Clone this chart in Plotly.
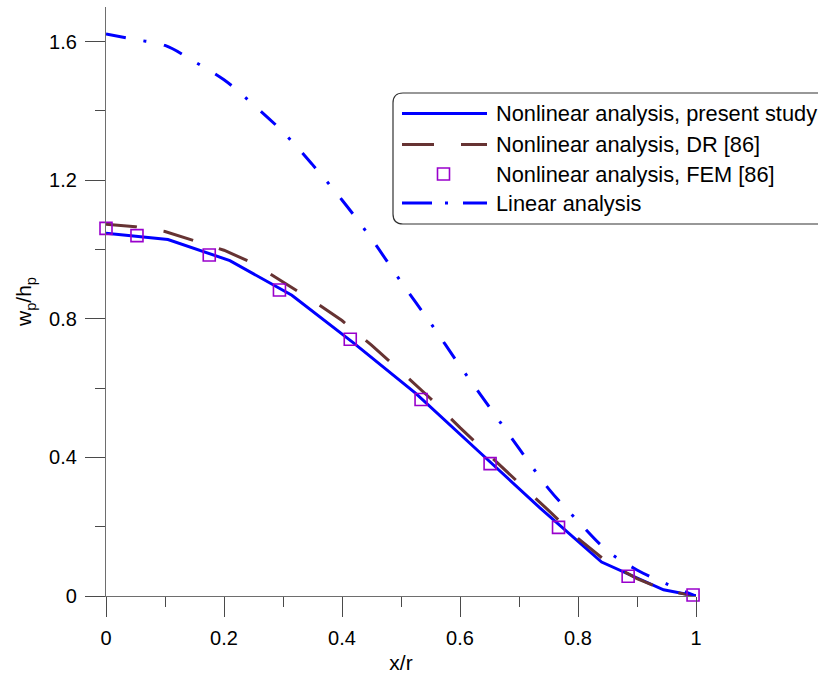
import plotly.graph_objects as go

# ---------------- data ----------------
present_x = [0.0, 0.105, 0.21, 0.315, 0.42, 0.525, 0.63, 0.735, 0.84, 0.945, 1.0]
present_w = [1.047, 1.029, 0.968, 0.868, 0.730, 0.585, 0.420, 0.255, 0.098, 0.018, 0.0]

dr_x = [0.0, 0.05, 0.1, 0.15, 0.2, 0.25, 0.3, 0.35, 0.4, 0.45, 0.5,
        0.55, 0.6, 0.65, 0.7, 0.75, 0.8, 0.85, 0.9, 0.95, 1.0]
dr_w = [1.073, 1.066, 1.052, 1.025, 0.998, 0.960, 0.906, 0.853, 0.795, 0.724, 0.648,
        0.570, 0.486, 0.405, 0.326, 0.247, 0.166, 0.097, 0.050, 0.015, 0.0]

fem_x = [0.0, 0.0525, 0.175, 0.294, 0.414, 0.534, 0.651, 0.767, 0.885, 0.995]
fem_w = [1.061, 1.040, 0.984, 0.883, 0.741, 0.567, 0.382, 0.198, 0.057, 0.003]

lin_x = [0.0, 0.05, 0.1, 0.15, 0.2, 0.25, 0.3, 0.35, 0.4, 0.45, 0.5,
         0.55, 0.6, 0.65, 0.7, 0.75, 0.8, 0.85, 0.9, 0.95, 1.0]
lin_w = [1.622, 1.606, 1.589, 1.542, 1.490, 1.418, 1.339, 1.245, 1.143, 1.031, 0.907,
         0.788, 0.664, 0.545, 0.426, 0.310, 0.216, 0.130, 0.075, 0.035, 0.0]

x_ticks = [0, 0.2, 0.4, 0.6, 0.8, 1.0]
x_tick_labels = ["0", "0.2", "0.4", "0.6", "0.8", "1"]
y_ticks = [0, 0.4, 0.8, 1.2, 1.6]
y_tick_labels = ["0", "0.4", "0.8", "1.2", "1.6"]

legend_labels = ["Nonlinear analysis, present study",
                 "Nonlinear analysis, DR [86]",
                 "Nonlinear analysis, FEM [86]",
                 "Linear analysis"]

BLUE = "#0000ff"
BROWN = "#663333"
PURPLE = "#9900cc"
FONT = "Liberation Sans, Arial, sans-serif"

# ---------------- layout geometry ----------------
W, H = 818, 680
ML, MR, MT, MB = 106, 122, 7, 84
PW, PH = W - ML - MR, H - MT - MB


def px(xp):
    return (xp - ML) / PW


def py(yp):
    return (H - MB - yp) / PH


fig = go.Figure()

fig.add_trace(go.Scatter(x=present_x, y=present_w, mode="lines",
                         line=dict(color=BLUE, width=3),
                         name=legend_labels[0], cliponaxis=False, showlegend=False))
fig.add_trace(go.Scatter(x=dr_x, y=dr_w, mode="lines",
                         line=dict(color=BROWN, width=3, dash="31px,27px"),
                         name=legend_labels[1], cliponaxis=False, showlegend=False))
fig.add_trace(go.Scatter(x=lin_x, y=lin_w, mode="lines", line_shape="spline",
                         line=dict(color=BLUE, width=3, dash="20px,18px,3px,18px"),
                         name=legend_labels[3], cliponaxis=False, showlegend=False))
fig.add_trace(go.Scatter(x=fem_x, y=fem_w, mode="markers",
                         marker=dict(symbol="square-open", size=12, color=PURPLE,
                                     line=dict(width=1.6, color=PURPLE)),
                         name=legend_labels[2], cliponaxis=False, showlegend=False))

# ---------------- manual legend ----------------
shapes = []
annotations = []
bx0, by0, bx1, by1, r = 393, 93, 832, 224, 10
path = (f"M {px(bx0 + r)},{py(by0)} L {px(bx1 - r)},{py(by0)} "
        f"Q {px(bx1)},{py(by0)} {px(bx1)},{py(by0 + r)} L {px(bx1)},{py(by1 - r)} "
        f"Q {px(bx1)},{py(by1)} {px(bx1 - r)},{py(by1)} L {px(bx0 + r)},{py(by1)} "
        f"Q {px(bx0)},{py(by1)} {px(bx0)},{py(by1 - r)} L {px(bx0)},{py(by0 + r)} "
        f"Q {px(bx0)},{py(by0)} {px(bx0 + r)},{py(by0)} Z")
shapes.append(dict(type="path", xref="paper", yref="paper", path=path,
                   line=dict(color="#333333", width=1.2), fillcolor="white", layer="above"))

rows = [113.5, 144.5, 174, 203]
samples = [dict(color=BLUE, width=3, dash="solid"),
           dict(color=BROWN, width=3, dash="32px,27px"),
           None,
           dict(color=BLUE, width=3, dash="30px,13px,3px,15px")]
for lab, yrow, ls in zip(legend_labels, rows, samples):
    if ls is not None:
        shapes.append(dict(type="line", xref="paper", yref="paper",
                           x0=px(402), x1=px(487), y0=py(yrow), y1=py(yrow),
                           line=ls, layer="above"))
    else:
        shapes.append(dict(type="rect", xref="paper", yref="paper",
                           x0=px(437.5), x1=px(449.5), y0=py(yrow - 6), y1=py(yrow + 6),
                           line=dict(color=PURPLE, width=1.6), layer="above"))
    annotations.append(dict(text=lab, xref="paper", yref="paper",
                            x=px(493.5), y=py(yrow), xanchor="left", yanchor="middle",
                            showarrow=False, font=dict(family=FONT, size=21.8, color="black")))

axis_common = dict(showgrid=False, zeroline=False, showline=True,
                   linecolor="#6e6e6e", linewidth=1.3,
                   ticks="outside", ticklen=20, tickwidth=1.3, tickcolor="#4a4a4a",
                   tickfont=dict(family=FONT, size=20, color="black"),
                   title_font=dict(family=FONT, size=21, color="black"))

fig.update_xaxes(range=[0, 1.0], tickvals=x_ticks, ticktext=x_tick_labels,
                 ticklabelstandoff=4,
                 minor=dict(dtick=0.1, tick0=0, ticks="outside", ticklen=10,
                            tickwidth=1.3, tickcolor="#4a4a4a"),
                 title=dict(text="x/r", standoff=7), **axis_common)
fig.update_yaxes(range=[0, 1.7], tickvals=y_ticks, ticktext=y_tick_labels,
                 ticklabelstandoff=4,
                 minor=dict(dtick=0.2, tick0=0, ticks="outside", ticklen=10,
                            tickwidth=1.3, tickcolor="#4a4a4a"),
                 title=dict(text="w<sub>p</sub>/h<sub>p</sub>", standoff=11), **axis_common)

fig.update_layout(width=W, height=H,
                  margin=dict(l=ML, r=MR, t=MT, b=MB, autoexpand=False),
                  paper_bgcolor="white", plot_bgcolor="white",
                  showlegend=False, shapes=shapes, annotations=annotations,
                  font=dict(family=FONT))

fig.write_html("out.html", config={"displayModeBar": False},
               post_script="document.body.style.margin='0';document.body.style.overflow='hidden';")
